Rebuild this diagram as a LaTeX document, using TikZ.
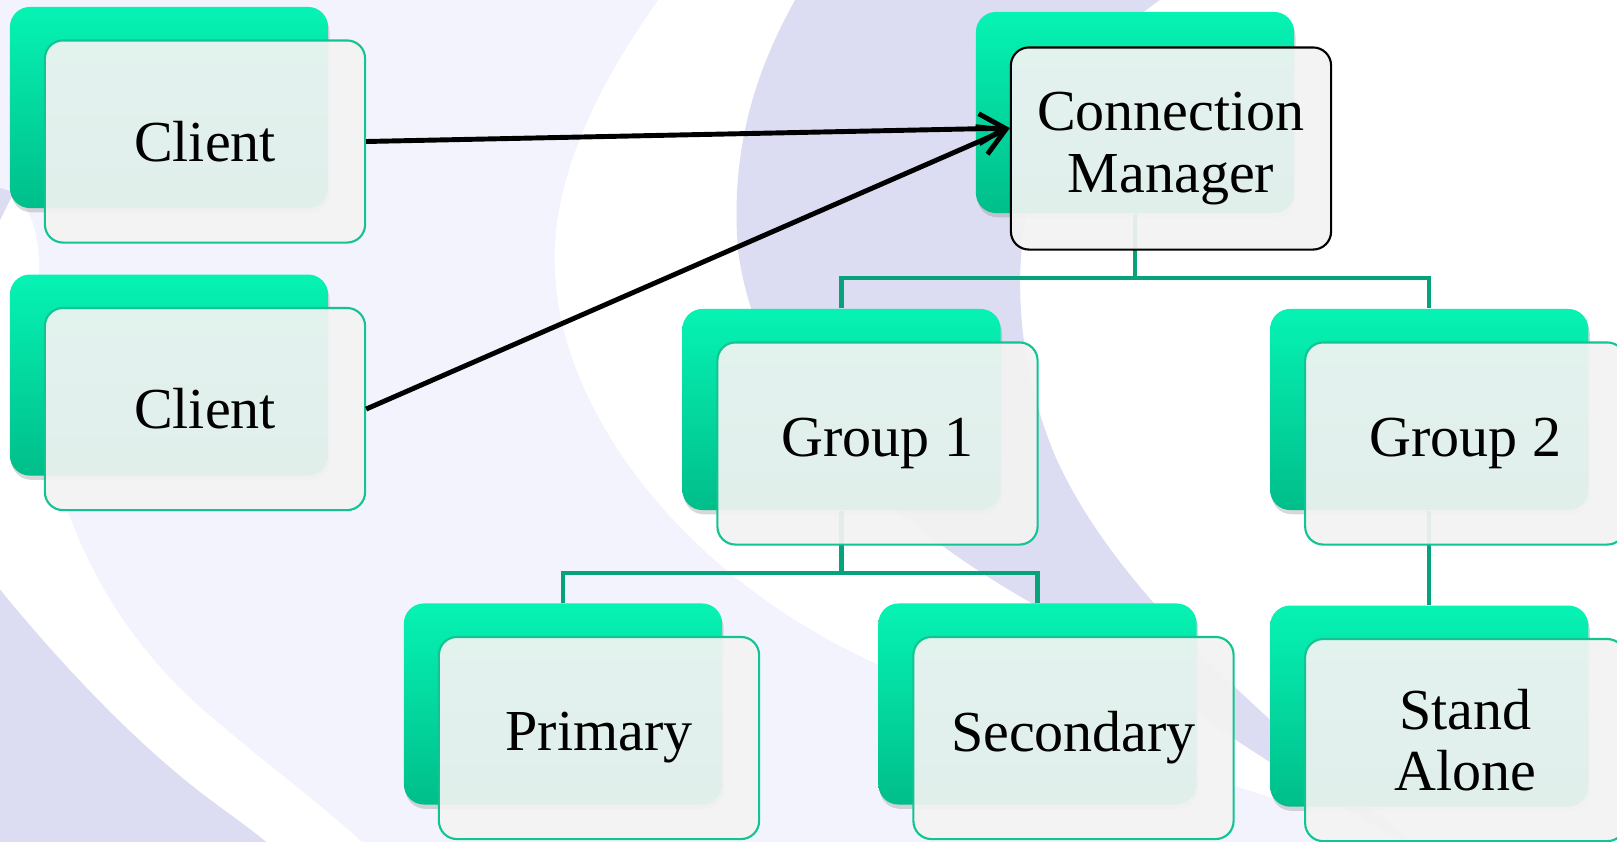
\documentclass[tikz,border=0pt]{standalone}
\usepackage{fontspec}
\setmainfont{Liberation Serif}
\usetikzlibrary{arrows.meta, positioning, calc, shadows}
\definecolor{bgLight}{RGB}{243,243,253}
\definecolor{bgDark}{RGB}{220,220,242}
\definecolor{tabTop}{RGB}{6,243,180}
\definecolor{tabBottom}{RGB}{0,190,138}
\definecolor{cardLine}{RGB}{18,196,146}
\definecolor{cardFill}{RGB}{243,243,243}
\definecolor{linkGreen}{RGB}{6,162,122}

\begin{document}
\begin{tikzpicture}[
        x=0.01cm, y=-0.01cm,
        node distance=0.3cm,
        tabbox/.style={rectangle, rounded corners=0.2cm, minimum width=3.18cm, minimum height=2.01cm, top color=tabTop, bottom color=tabBottom, drop shadow={shadow xshift=0.4pt, shadow yshift=-1.2pt, opacity=0.3}},
        card/.style={rectangle, rounded corners=0.18cm, minimum width=3.2cm, minimum height=2.02cm, inner sep=0pt, fill=cardFill, fill opacity=0.93, text opacity=1, draw=cardLine, line width=0.6pt, align=center, font=\fontsize{16.5}{17.5}\selectfont},
        link/.style={draw=linkGreen, line width=1.15pt},
        flow/.style={draw=black, line width=1.4pt, -{Straight Barb[length=2.6mm, width=3mm]}}
    ]
        \useasboundingbox (0,0) rectangle (1617,842);

        % Background swooshes
        \fill[bgLight] (0,0) rectangle (1617,842);
        \fill[white] (662,-5) .. controls (600,80) and (550,180) .. (555,270)
            .. controls (560,420) and (700,600) .. (921,682)
            .. controls (1100,750) and (1300,800) .. (1420,850)
            -- (1630,850) -- (1630,-5) -- cycle;
        \fill[bgDark] (798,-5) .. controls (755,70) and (730,150) .. (738,250)
            .. controls (755,380) and (850,500) .. (1035,605)
            .. controls (1150,680) and (1300,790) .. (1420,850)
            .. controls (1280,730) and (1120,600) .. (1056,458)
            .. controls (1010,350) and (1005,220) .. (1060,110)
            .. controls (1090,55) and (1130,20) .. (1167,-5) -- cycle;
        \fill[white] (12,192) .. controls (40,215) and (42,260) .. (37,300)
            .. controls (30,450) and (80,600) .. (200,707)
            .. controls (260,760) and (330,810) .. (370,850)
            -- (-10,850) -- (-10,192) -- cycle;
        \fill[bgDark] (-10,577) .. controls (40,640) and (120,730) .. (200,792)
            .. controls (230,815) and (260,835) .. (275,850) -- (-10,850) -- cycle;
        \fill[bgDark] (-10,185) -- (14,192) -- (-10,240) -- cycle;

        % Back tabs
        \node[tabbox] (cl1b) at (169,107.5) {};
        \node[tabbox, below=0.65cm of cl1b] (cl2b) {};
        \node[tabbox] (cmb) at (1135,112.5) {};
        \node[tabbox] (g1b) at (841.5,409.5) {};
        \node[tabbox, right=2.68cm of g1b] (g2b) {};
        \node[tabbox] (prib) at (563,704) {};
        \node[tabbox] (secb) at (1037.5,704) {};
        \node[tabbox, below=0.94cm of g2b] (sab) {};

        % Tree links
        \draw[link] (cmb.south) |- ($(g1b.north)+(0,-30)$) -- (g1b.north);
        \draw[link] (cmb.south) |- ($(g2b.north)+(0,-30)$) -- (g2b.north);
        \draw[link] (g1b.south) |- ($(prib.north)+(0,-30)$) -- (prib.north);
        \draw[link] (g1b.south) |- ($(secb.north)+(0,-30)$) -- (secb.north);
        \draw[link] (g2b.south) -- (sab.north);

        % Front cards
        \node[card] (cl1) at ($(cl1b)+(36,34)$) {Client};
        \node[card] (cl2) at ($(cl2b)+(36,34)$) {Client};
        \node[card, draw=black] (cm) at ($(cmb)+(36,36)$) {Connection\\Manager};
        \node[card] (g1) at ($(g1b)+(36,34)$) {Group 1};
        \node[card] (g2) at ($(g2b)+(36,34)$) {Group 2};
        \node[card] (pri) at ($(prib)+(36,34)$) {Primary};
        \node[card] (sec) at ($(secb)+(36,34)$) {Secondary};
        \node[card] (sa) at ($(sab)+(36,34)$) {Stand\\Alone};

        % Client requests
        \coordinate (cmin) at ($(cm.north west)!0.4!(cm.south west)$);
        \draw[flow] (cl1.east) -- (cmin);
        \draw[flow] (cl2.east) -- (cmin);
    \end{tikzpicture}
\end{document}
